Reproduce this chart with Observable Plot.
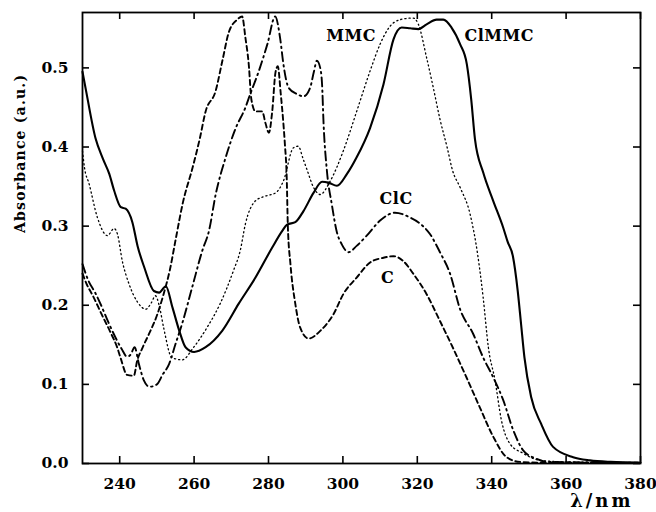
<!DOCTYPE html>
<html><head><meta charset="utf-8">
<script src="https://cdn.jsdelivr.net/npm/d3@7"></script>
<script src="https://cdn.jsdelivr.net/npm/@observablehq/plot@0.6"></script>
<style>body{margin:0;background:#fff}</style>
</head><body><div id="chart"></div>
<script>
// Tick values
const xTicks = [240, 260, 280, 300, 320, 340, 360, 380];
const yTicks = [0, 0.1, 0.2, 0.3, 0.4, 0.5];

// ClMMC (solid)
const wlClMMC = [230,231,233.5,235.5,237.2,238.5,240.3,241.6,243.4,244.8,246.6,249.2,250.6,252.4,254.2,256,257.7,260,263.1,267.6,272,276.5,281,283.7,285,287.2,289.4,292.1,294.4,296.1,298.4,301.1,303.7,307.3,310.9,313.6,315.8,318.1,320.3,322.5,325.2,327,329.2,331.5,333.3,334.5,335.5,337.7,340.4,343.1,344.3,345.7,347,347.9,348.8,350.6,353.3,356.5,361.9,366.4,372,380];
const absClMMC = [0.495,0.47,0.411,0.385,0.366,0.345,0.324,0.322,0.305,0.275,0.248,0.218,0.216,0.224,0.197,0.168,0.147,0.141,0.147,0.168,0.202,0.235,0.273,0.294,0.302,0.305,0.319,0.342,0.356,0.355,0.351,0.366,0.387,0.424,0.479,0.536,0.551,0.55,0.549,0.555,0.561,0.561,0.551,0.53,0.505,0.46,0.41,0.368,0.332,0.298,0.28,0.262,0.218,0.176,0.134,0.084,0.05,0.021,0.008,0.004,0.002,0.001];

// MMC (dotted)
const wlMMC = [230,230.5,231.8,234,236.7,238.5,239.4,240.7,242.5,244.8,247,248.5,249.6,250.6,251.8,254,256.8,259.9,263.5,267,270.6,272.4,273.8,276.5,279.2,281.9,284,286.7,288,289.3,290.3,292.1,293.9,296.6,300.1,303.7,307.3,310,312.4,315.4,318.9,320.3,322.5,324.3,326.1,328,329.5,331.5,334.2,336.2,337.7,339.1,340.9,342.6,344.9,348.4,353,360,380];
const absMMC = [0.395,0.375,0.353,0.311,0.288,0.297,0.29,0.256,0.227,0.204,0.195,0.203,0.212,0.2,0.172,0.134,0.131,0.147,0.172,0.202,0.244,0.269,0.303,0.332,0.338,0.342,0.357,0.399,0.401,0.385,0.372,0.349,0.34,0.357,0.395,0.445,0.496,0.53,0.551,0.561,0.563,0.555,0.513,0.475,0.435,0.4,0.37,0.349,0.315,0.265,0.21,0.147,0.105,0.055,0.025,0.013,0.004,0.002,0.001];

// ClC (dash-dot)
const wlClC = [230,231.5,233.5,235,237,239,240.5,242,243,244,245.2,246.5,248,250,251.5,253.3,255,256.8,259.5,262.2,264,265.8,268.5,271.2,273.8,275.1,277.4,279.7,281.8,283.2,284,285.4,287.6,289.4,291.2,292.2,293,293.9,294.4,294.8,295.7,297,298.4,299.7,301.5,303.7,306.4,310,314,318,320.8,323.4,326.1,328.8,331.5,335,337.7,340.4,343.1,345.8,348.4,352,355,380];
const absClC = [0.252,0.232,0.215,0.2,0.178,0.158,0.145,0.135,0.138,0.147,0.125,0.105,0.097,0.1,0.112,0.126,0.151,0.177,0.223,0.269,0.294,0.34,0.387,0.424,0.45,0.467,0.496,0.53,0.565,0.535,0.505,0.475,0.467,0.464,0.475,0.495,0.509,0.5,0.479,0.43,0.37,0.328,0.292,0.277,0.267,0.275,0.288,0.307,0.317,0.311,0.303,0.29,0.267,0.24,0.195,0.164,0.134,0.109,0.08,0.042,0.017,0.006,0.002,0.001];

// C (dashed)
const wlC = [230,231,233,235,237.5,239.3,240.2,242,243.8,244.7,246,248,250,251.8,253.5,255,257,259.6,261.5,263.1,265.8,267.6,269.4,271.6,272.9,273.8,274.7,275.4,276.5,278.3,279.2,280.1,281,281.9,282.5,283.3,284,284.4,284.9,285.2,285.9,287.2,288.5,290.8,294,297.5,300.1,303.7,307.3,310.9,313.6,316.2,318.9,322.5,326.1,329.7,333.2,336.8,340.4,344,347.6,355,380];
const absC = [0.24,0.228,0.21,0.19,0.166,0.147,0.134,0.112,0.111,0.13,0.145,0.165,0.187,0.214,0.245,0.282,0.33,0.374,0.41,0.445,0.471,0.509,0.546,0.561,0.565,0.538,0.504,0.46,0.445,0.445,0.43,0.418,0.445,0.495,0.502,0.467,0.43,0.404,0.361,0.3,0.252,0.202,0.172,0.158,0.168,0.189,0.214,0.235,0.254,0.26,0.262,0.256,0.24,0.214,0.18,0.145,0.109,0.071,0.034,0.008,0.002,0.001,0.001];

// Curve labels
const labelNames = ["MMC", "ClMMC", "ClC", "C"];
const labelX = [302.2, 342, 314.3, 312];
const labelY = [0.54, 0.541, 0.335, 0.235];

const toRows = (xs, ys) => xs.map((w, i) => ({wl: w, abs: ys[i]}));
const labels = labelNames.map((n, i) => ({name: n, wl: labelX[i], abs: labelY[i]}));

const lineOpts = {x: "wl", y: "abs", stroke: "#000", curve: "monotone-x"};
const W = 656, H = 512, ML = 82, MR = 16, MT = 12, MB = 49, TICK = 7;
const frameW = W - ML - MR, frameH = H - MT - MB;

const chart = Plot.plot({
  width: W, height: H,
  marginLeft: ML, marginRight: MR, marginTop: MT, marginBottom: MB,
  x: {domain: [230, 380]},
  y: {domain: [0, 0.57]},
  style: {fontFamily: "'DejaVu Serif', serif", fontWeight: "bold", fontSize: "15.5px", background: "#fff", color: "#000", overflow: "visible"},
  marks: [
    Plot.axisX(xTicks, {anchor: "bottom", tickSize: 0, tickPadding: 14, label: null}),
    Plot.axisY(yTicks, {anchor: "left", tickSize: 0, tickPadding: 14, tickFormat: ".1f", label: null}),
    // inward ticks on all four sides
    Plot.tickX(xTicks, {x: d => d, insetTop: frameH - TICK, stroke: "#000", strokeWidth: 1.6}),
    Plot.tickX(xTicks, {x: d => d, insetBottom: frameH - TICK, stroke: "#000", strokeWidth: 1.6}),
    Plot.tickY(yTicks, {y: d => d, insetRight: frameW - TICK, stroke: "#000", strokeWidth: 1.6}),
    Plot.tickY(yTicks, {y: d => d, insetLeft: frameW - TICK, stroke: "#000", strokeWidth: 1.6}),
    Plot.line(toRows(wlC, absC), {...lineOpts, strokeWidth: 1.9, strokeDasharray: "5,3.5"}),
    Plot.line(toRows(wlClC, absClC), {...lineOpts, strokeWidth: 1.9, strokeDasharray: "9,4,1.5,4"}),
    Plot.line(toRows(wlMMC, absMMC), {...lineOpts, strokeWidth: 1.3, strokeDasharray: "1.2,3"}),
    Plot.line(toRows(wlClMMC, absClMMC), {...lineOpts, strokeWidth: 2.1}),
    Plot.frame({stroke: "#000", strokeWidth: 1.8}),
    Plot.text(labels, {x: "wl", y: "abs", text: "name", fontSize: 16, fill: "#000"}),
    Plot.text(["Absorbance (a.u.)"], {frameAnchor: "left", rotate: -90, dx: -62, dy: -5, fontSize: 14, fill: "#000"}),
    Plot.text(["λ/nm"], {frameAnchor: "bottom-right", textAnchor: "end", lineAnchor: "bottom", dx: -7, dy: 43, fontSize: 18, fill: "#000"})
  ]
});
d3.select(chart).selectAll("text").each(function() {
  const t = this.textContent;
  if (t === "Absorbance (a.u.)") d3.select(this).attr("letter-spacing", "1.2px");
  if (t === "λ/nm") d3.select(this).attr("letter-spacing", "3px");
  if (["MMC", "ClMMC", "ClC", "C"].includes(t)) d3.select(this).attr("letter-spacing", "0.5px");
});
document.getElementById("chart").appendChild(chart);
</script>
</body></html>
